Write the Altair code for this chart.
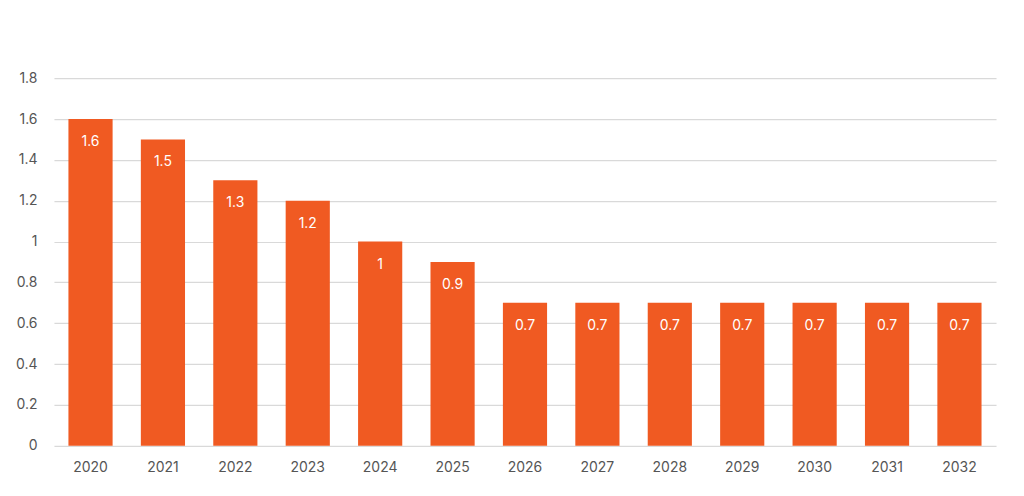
import altair as alt
import pandas as pd

years = ["2020", "2021", "2022", "2023", "2024", "2025", "2026", "2027", "2028", "2029", "2030", "2031", "2032"]
values = [1.6, 1.5, 1.3, 1.2, 1.0, 0.9, 0.7, 0.7, 0.7, 0.7, 0.7, 0.7, 0.7]
y_ticks = [0, 0.2, 0.4, 0.6, 0.8, 1.0, 1.2, 1.4, 1.6, 1.8]

df = pd.DataFrame({"year": years, "value": values})

FONT = "Inter"
COLOR = "#F05A22"

x = alt.X("year:N", sort=years, title=None,
          scale=alt.Scale(paddingInner=0.39, paddingOuter=0.2),
          axis=alt.Axis(labelAngle=0, ticks=False, domain=False, grid=False, labelPadding=15,
                        labelFont=FONT, labelFontSize=14, labelColor="#555555"))
y = alt.Y("value:Q", title=None,
          scale=alt.Scale(domain=[0, 1.8], nice=False),
          axis=alt.Axis(values=y_ticks, format="~g", ticks=False, domain=False,
                        labelPadding=17, labelFont=FONT, labelFontSize=14,
                        labelColor="#555555", gridColor="#d9d9d9", gridWidth=1.2))

bars = alt.Chart(df).mark_bar(color=COLOR).encode(x=x, y=y)
labels = alt.Chart(df).mark_text(color="white", font=FONT, fontSize=14, baseline="middle", dy=23).encode(
    x=alt.X("year:N", sort=years), y="value:Q", text=alt.Text("value:Q", format="~g"))

chart = (bars + labels).properties(
    width=943, height=368,
    background="white",
    autosize=alt.AutoSizeParams(type="none"),
    padding={"left": 46, "top": 70, "right": 20, "bottom": 40},
).configure_view(strokeWidth=0, stroke="transparent")

chart.save("out.html", embed_options={"renderer": "svg", "actions": False})
